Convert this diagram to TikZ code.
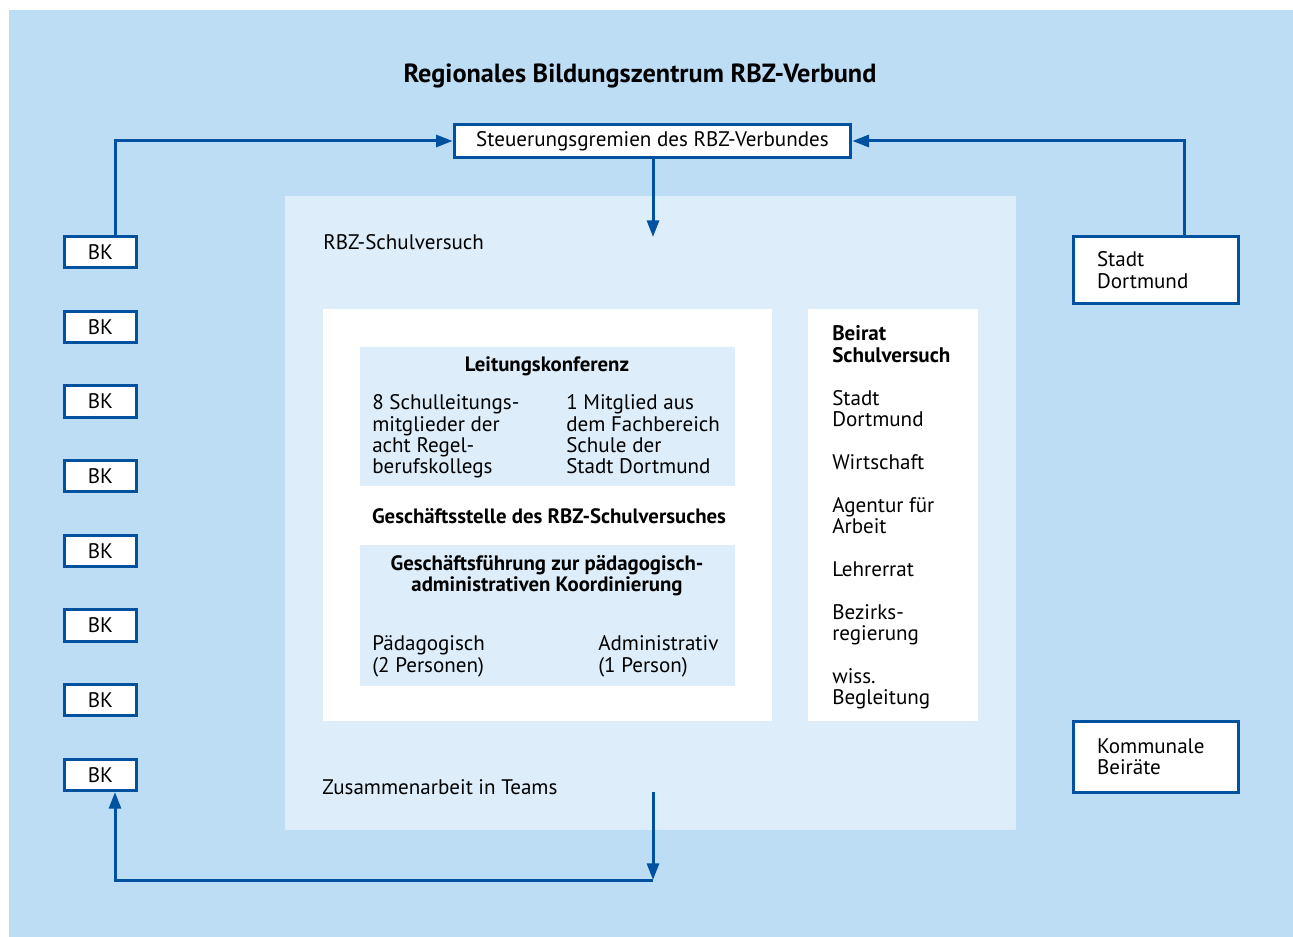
\documentclass[tikz,border=0pt]{standalone}
\usepackage{fontspec}
\setmainfont{PT Sans}
\usetikzlibrary{arrows.meta}
\definecolor{rbzbg}{RGB}{189,221,245}
\definecolor{rbzpale}{RGB}{221,237,250}
\definecolor{rbzline}{RGB}{0,82,160}
\newcommand{\itemgap}{\\[16pt]}
\tikzset{
  unitbox/.style={draw=rbzline, line width=2.25pt, fill=white, inner sep=0pt,
    font=\fontsize{15.8}{16.1}\selectfont},
  link/.style={draw=rbzline, line width=2.25pt, -{Triangle[length=12.5pt,width=9pt]}},
  txt/.style={inner sep=0pt, anchor=base west, align=left, font=\fontsize{15.8}{16.1}\selectfont},
  head/.style={inner sep=0pt, anchor=base, align=center, font=\fontsize{15.6}{16.1}\selectfont\bfseries},
}
\begin{document}
\begin{tikzpicture}[x=0.75pt,y=-0.75pt]
\useasboundingbox (0,0) rectangle (1293,937);
% panels
\fill[rbzbg] (9,10) rectangle (1293,937);
\fill[rbzpale] (285,196) rectangle (1016,830);
\fill[white] (323,309) rectangle (772,721);
\fill[white] (808,309) rectangle (978,721);
\fill[rbzpale] (360,347) rectangle (735,486);
\fill[rbzpale] (360,545) rectangle (735,686);

\node[inner sep=0pt, anchor=base, font=\fontsize{19.7}{20}\selectfont\bfseries] (title) at (640,83)
  {Regionales Bildungszentrum RBZ-Verbund};

% boxes
\node[unitbox, minimum width=297.5pt, minimum height=25pt] (steuer) at (652.5,141)
  {Steuerungsgremien des RBZ-Verbundes};
\foreach \i in {1,...,8}
  \node[unitbox, minimum width=54pt, minimum height=23.5pt] (bk\i) at (100.5,{252+74.7*(\i-1)}) {BK};
\node[unitbox, text width=88.5pt, inner xsep=17.6pt, align=left, minimum height=50.5pt] (stadt) at (1156,270)
  {Stadt\\Dortmund};
\node[unitbox, text width=88.5pt, inner xsep=17.6pt, align=left, minimum height=53.5pt] (beiraete) at (1156,757)
  {Kommunale\\Beiräte};

% texts (base = last line)
\node[txt] (schulversuch) at (323,250) {RBZ-Schulversuch};
\node[txt] (teams) at (322,794) {Zusammenarbeit in Teams};
\node[head] (leitung) at (547,372) {Leitungskonferenz};
\node[txt] (schulleitung) at (372,474) {8 Schulleitungs-\\mitglieder der\\acht Regel-\\berufskollegs};
\node[txt] (mitglied) at (566,474) {1 Mitglied aus\\dem Fachbereich\\Schule der\\Stadt Dortmund};
\node[head] (stelle) at (549,524) {Geschäftsstelle des RBZ-Schulversuches};
\node[head] (fuehrung) at (547,592) {Geschäftsführung zur pädagogisch-\\administrativen Koordinierung};
\node[txt] (paed) at (372,672) {Pädagogisch\\(2 Personen)};
\node[txt] (admin) at (598,672) {Administrativ\\(1 Person)};
\node[txt] (beirat) at (832,705) {{\bfseries Beirat}\\{\bfseries Schulversuch}\itemgap
  Stadt\\Dortmund\itemgap Wirtschaft\itemgap Agentur für\\Arbeit\itemgap
  Lehrerrat\itemgap Bezirks-\\regierung\itemgap wiss.\\Begleitung};

% connectors
\coordinate (lx) at (115,0);
\coordinate (rx) at (1184,0);
\coordinate (schultop) at (653,237);
\coordinate (teamsend) at (653,792);
\coordinate (corner) at (653,880);
\draw[link] (bk1.north -| lx) |- (steuer.west);
\draw[link] (stadt.north -| rx) |- (steuer.east);
\draw[link] (steuer.south -| schultop) -- (schultop);
\draw[link] (teamsend) -- (corner);
\draw[link] (corner) -| (bk8.south -| lx);
\end{tikzpicture}
\end{document}
